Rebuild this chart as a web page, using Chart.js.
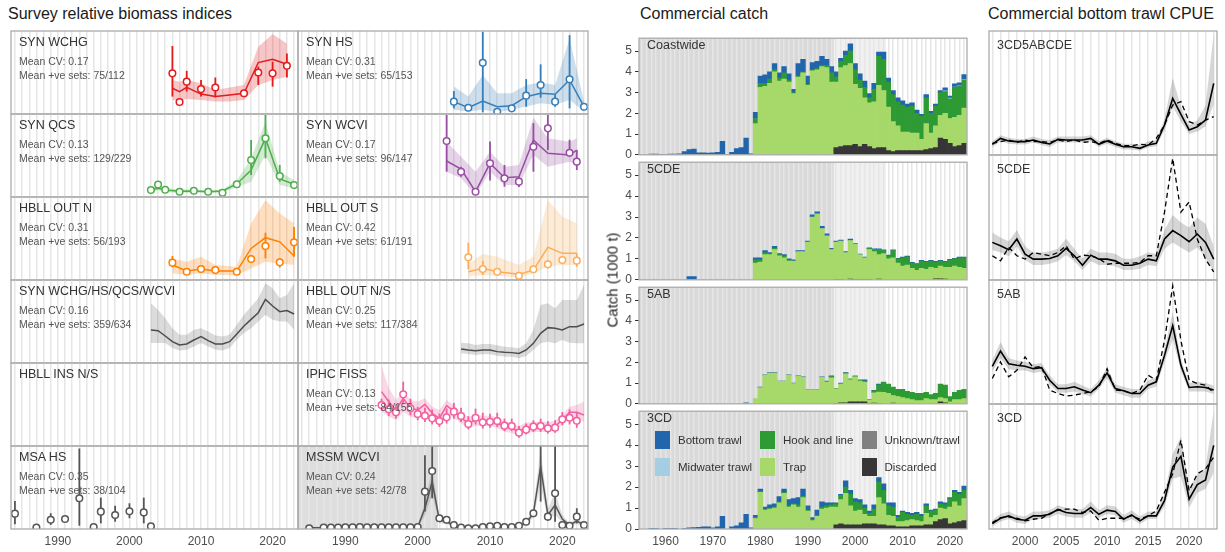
<!DOCTYPE html>
<html>
<head>
<meta charset="utf-8">
<title>Survey indices, commercial catch and CPUE</title>
<script src="https://cdn.jsdelivr.net/npm/chart.js@4.4.1/dist/chart.umd.min.js"></script>
<style>
  body { margin: 0; background: #fff; }
  #page { position: relative; width: 1225px; height: 552px; overflow: hidden;
          font-family: "Liberation Sans", Arial, Helvetica, sans-serif; }
  #page canvas { position: absolute; }
  .lbl { position: absolute; white-space: nowrap; line-height: 1; font-weight: normal; }
  .sw { position: absolute; width: 15px; height: 18px; }
</style>
</head>
<body>
<div id="page"></div>
<script>
// ---------- survey indices (relative units: 0 = panel floor, 1 = panel top) ----------
const wchgYears = [2006, 2007, 2008, 2010, 2012, 2016, 2018, 2020, 2022];
const wchgObs   = [0.49, 0.145, 0.39, 0.30, 0.32, 0.25, 0.50, 0.49, 0.58];
const wchgObsLo = [0.21, 0.11, 0.27, 0.21, 0.20, 0.21, 0.35, 0.33, 0.44];
const wchgObsHi = [0.82, 0.18, 0.52, 0.41, 0.44, 0.29, 0.57, 0.63, 0.73];
const wchgFitYears = [2006, 2007, 2008, 2010, 2012, 2014, 2016, 2018, 2020, 2022];
const wchgFit   = [0.31, 0.27, 0.32, 0.24, 0.21, 0.23, 0.25, 0.62, 0.66, 0.60];
const wchgFitLo = [0.17, 0.16, 0.18, 0.17, 0.15, 0.15, 0.17, 0.35, 0.41, 0.45];
const wchgFitHi = [0.41, 0.39, 0.41, 0.37, 0.29, 0.32, 0.35, 0.81, 0.96, 0.85];

const qcsYears = [2003, 2004, 2005, 2007, 2009, 2011, 2013, 2015, 2017, 2019, 2021, 2023];
const qcsObs   = [0.084, 0.15, 0.088, 0.064, 0.076, 0.064, 0.052, 0.153, 0.446, 0.707, 0.253, 0.145];
const qcsObsLo = [0.07, 0.11, 0.07, 0.05, 0.06, 0.05, 0.04, 0.13, 0.265, 0.466, 0.185, 0.12];
const qcsObsHi = [0.10, 0.19, 0.10, 0.08, 0.09, 0.08, 0.07, 0.18, 0.687, 0.99, 0.386, 0.17];
const qcsFit   = [0.084, 0.104, 0.084, 0.068, 0.072, 0.064, 0.072, 0.157, 0.325, 0.707, 0.217, 0.153];
const qcsFitLo = [0.06, 0.08, 0.06, 0.05, 0.05, 0.05, 0.05, 0.12, 0.185, 0.506, 0.145, 0.105];
const qcsFitHi = [0.11, 0.13, 0.11, 0.09, 0.09, 0.08, 0.09, 0.20, 0.466, 0.908, 0.305, 0.205];

const outNYears = [2006, 2008, 2010, 2012, 2015, 2017, 2019, 2021, 2023];
const outNObs   = [0.209, 0.10, 0.133, 0.12, 0.10, 0.253, 0.41, 0.213, 0.454];
const outNObsLo = [0.153, 0.09, 0.10, 0.11, 0.09, 0.22, 0.26, 0.15, 0.28];
const outNObsHi = [0.289, 0.11, 0.17, 0.13, 0.11, 0.28, 0.57, 0.26, 0.64];
const outNFit   = [0.18, 0.108, 0.133, 0.108, 0.108, 0.38, 0.51, 0.46, 0.29];
const outNFitLo = [0.08, 0.06, 0.08, 0.06, 0.06, 0.14, 0.22, 0.20, 0.18];
const outNFitHi = [0.26, 0.22, 0.28, 0.18, 0.16, 0.68, 0.96, 0.80, 0.68];

const synAllYears = [2003, 2004, 2005, 2006, 2007, 2008, 2009, 2010, 2011, 2012, 2013,
                     2014, 2015, 2016, 2017, 2018, 2019, 2020, 2021, 2022, 2023];
const synAllFit   = [0.398, 0.39, 0.325, 0.257, 0.217, 0.229, 0.277, 0.317, 0.269, 0.229, 0.229,
                     0.257, 0.349, 0.446, 0.526, 0.606, 0.767, 0.687, 0.618, 0.631, 0.59];
const synAllFitHi = [0.72, 0.64, 0.54, 0.42, 0.34, 0.34, 0.40, 0.42, 0.38, 0.33, 0.32,
                     0.34, 0.46, 0.58, 0.68, 0.78, 0.96, 0.90, 0.78, 0.82, 0.96];
const synAllFitLo = [0.24, 0.24, 0.24, 0.18, 0.15, 0.16, 0.20, 0.24, 0.20, 0.16, 0.15,
                     0.18, 0.28, 0.36, 0.42, 0.50, 0.58, 0.52, 0.50, 0.50, 0.40];

const msaYears = [1984, 1987, 1989, 1991, 1993, 1995, 1996, 1998, 2000, 2002, 2003];
const msaObs   = [0.185, 0.016, 0.112, 0.12, 0.37, 0.024, 0.209, 0.169, 0.213, 0.2, 0.032];
const msaObsLo = [0.056, 0.01, 0.05, 0.09, 0.04, 0.015, 0.068, 0.088, 0.13, 0.068, 0.02];
const msaObsHi = [0.337, 0.03, 0.19, 0.15, 0.97, 0.035, 0.378, 0.28, 0.31, 0.378, 0.045];

const hsYears = [2005, 2007, 2009, 2011, 2013, 2015, 2017, 2019, 2021, 2023];
const hsObs   = [0.149, 0.076, 0.618, 0.028, 0.068, 0.221, 0.349, 0.149, 0.418, 0.088];
const hsObsLo = [0.068, 0.06, 0.02, 0.02, 0.05, 0.088, 0.197, 0.088, 0.068, 0.07];
const hsObsHi = [0.277, 0.09, 0.99, 0.04, 0.085, 0.42, 0.598, 0.23, 0.95, 0.10];
const hsFit   = [0.149, 0.076, 0.157, 0.088, 0.10, 0.209, 0.249, 0.237, 0.41, 0.088];
const hsFitLo = [0.05, 0.03, 0.05, 0.02, 0.05, 0.09, 0.13, 0.11, 0.17, 0.03];
const hsFitHi = [0.33, 0.21, 0.47, 0.25, 0.25, 0.35, 0.38, 0.35, 0.91, 0.15];

const wcviYears = [2004, 2006, 2008, 2010, 2012, 2014, 2016, 2018, 2021, 2022];
const wcviObs   = [0.675, 0.305, 0.064, 0.406, 0.225, 0.185, 0.606, 0.827, 0.534, 0.426];
const wcviObsLo = [0.305, 0.245, 0.03, 0.20, 0.124, 0.12, 0.305, 0.566, 0.486, 0.325];
const wcviObsHi = [0.99, 0.365, 0.10, 0.67, 0.386, 0.245, 0.89, 0.99, 0.69, 0.566];
const wcviFit   = [0.434, 0.337, 0.064, 0.406, 0.233, 0.245, 0.687, 0.526, 0.506, 0.566];
const wcviFitLo = [0.305, 0.225, 0.024, 0.305, 0.145, 0.145, 0.506, 0.365, 0.426, 0.386];
const wcviFitHi = [0.667, 0.486, 0.305, 0.546, 0.365, 0.386, 0.956, 0.707, 0.667, 0.707];

const outSYears = [2007, 2009, 2011, 2014, 2016, 2018, 2020, 2022];
const outSObs   = [0.273, 0.133, 0.10, 0.052, 0.129, 0.189, 0.241, 0.233];
const outSObsLo = [0.129, 0.06, 0.09, 0.045, 0.12, 0.14, 0.23, 0.16];
const outSObsHi = [0.45, 0.23, 0.11, 0.06, 0.14, 0.24, 0.25, 0.32];
const outSFit   = [0.10, 0.14, 0.10, 0.068, 0.12, 0.394, 0.321, 0.321];
const outSFitLo = [0.04, 0.06, 0.05, 0.03, 0.08, 0.16, 0.18, 0.18];
const outSFitHi = [0.20, 0.313, 0.28, 0.18, 0.28, 0.964, 0.763, 0.683];

const outNSYears = [2006, 2007, 2008, 2009, 2010, 2011, 2012, 2013, 2014,
                    2015, 2016, 2017, 2018, 2019, 2020, 2021, 2022, 2023];
const outNSFit   = [0.169, 0.157, 0.149, 0.157, 0.157, 0.137, 0.129, 0.125, 0.116,
                    0.157, 0.237, 0.357, 0.426, 0.418, 0.398, 0.438, 0.438, 0.47];
const outNSFitHi = [0.245, 0.237, 0.217, 0.229, 0.229, 0.213, 0.197, 0.189, 0.177,
                    0.237, 0.398, 0.699, 0.719, 0.659, 0.759, 0.759, 0.759, 0.94];
const outNSFitLo = [0.116, 0.108, 0.096, 0.104, 0.104, 0.088, 0.076, 0.076, 0.056,
                    0.084, 0.157, 0.237, 0.257, 0.237, 0.277, 0.245, 0.237, 0.237];

const fissObsYears = [1995, 1996, 1997, 1998, 1999, 2000, 2001, 2002, 2003, 2004, 2005, 2006, 2007, 2008,
                      2009, 2010, 2011, 2012, 2013, 2014, 2015, 2016, 2017, 2018, 2019, 2020, 2021, 2022];
const fissObs   = [0.494, 0.442, 0.406, 0.622, 0.454, 0.386, 0.365, 0.333, 0.301, 0.345, 0.414, 0.361, 0.265, 0.341,
                   0.285, 0.293, 0.301, 0.245, 0.241, 0.161, 0.197, 0.233, 0.241, 0.213, 0.221, 0.321, 0.341, 0.305];
const fissObsHi = [0.57, 0.56, 0.50, 0.775, 0.57, 0.47, 0.46, 0.44, 0.39, 0.45, 0.52, 0.46, 0.36, 0.45,
                   0.40, 0.39, 0.40, 0.33, 0.33, 0.24, 0.27, 0.31, 0.33, 0.30, 0.31, 0.41, 0.44, 0.40];
const fissObsLo = [0.43, 0.36, 0.33, 0.51, 0.37, 0.31, 0.29, 0.26, 0.23, 0.27, 0.33, 0.29, 0.20, 0.26,
                   0.21, 0.22, 0.23, 0.18, 0.18, 0.10, 0.14, 0.17, 0.17, 0.15, 0.16, 0.25, 0.26, 0.22];
const fissFitYears = [1995, 1996, 1997, 1998, 1999, 2000, 2001, 2002, 2003, 2004, 2005, 2006, 2007, 2008, 2009,
                      2010, 2011, 2012, 2013, 2014, 2015, 2016, 2017, 2018, 2019, 2020, 2021, 2022, 2023];
const fissFit   = [0.655, 0.534, 0.434, 0.574, 0.454, 0.434, 0.502, 0.394, 0.333, 0.486, 0.422, 0.341, 0.273, 0.313, 0.301,
                   0.305, 0.273, 0.233, 0.213, 0.173, 0.221, 0.221, 0.233, 0.221, 0.241, 0.313, 0.406, 0.406, 0.373];
const fissFitHi = [0.96, 0.70, 0.554, 0.655, 0.554, 0.534, 0.574, 0.474, 0.434, 0.554, 0.494, 0.414, 0.345, 0.385, 0.365,
                   0.365, 0.345, 0.297, 0.277, 0.237, 0.285, 0.285, 0.297, 0.285, 0.305, 0.373, 0.474, 0.494, 0.534];
const fissFitLo = [0.414, 0.353, 0.313, 0.414, 0.353, 0.333, 0.394, 0.313, 0.253, 0.394, 0.333, 0.273, 0.205, 0.245, 0.237,
                   0.241, 0.213, 0.173, 0.157, 0.12, 0.165, 0.165, 0.173, 0.165, 0.181, 0.253, 0.333, 0.333, 0.293];

const mssmYears = [1985, 1987, 1988, 1989, 1990, 1991, 1992, 1993, 1994, 1995, 1996, 1997, 1998, 1999, 2000,
                   2001, 2002, 2003, 2004, 2005, 2006, 2007, 2008, 2009, 2010, 2011, 2012, 2013, 2014, 2015,
                   2016, 2017, 2018, 2019, 2020, 2021, 2022, 2023];
const mssmObs   = [0.008, 0.016, 0.016, 0.016, 0.02, 0.02, 0.024, 0.02, 0.02, 0.02, 0.02, 0.02, 0.02, 0.02, 0.024,
                   0.45, 0.699, 0.129, 0.112, 0.048, 0.016, 0.008, 0.008, 0.024, 0.032, 0.04, 0.024, 0.024, 0.04, 0.088,
                   0.189, 1.15, 0.149, 0.43, 0.048, 0.04, 0.149, 0.048];
const mssmObsLo = [0.005, 0.01, 0.01, 0.01, 0.012, 0.012, 0.015, 0.012, 0.012, 0.012, 0.012, 0.012, 0.012, 0.012, 0.015,
                   0.21, 0.37, 0.09, 0.07, 0.03, 0.01, 0.005, 0.005, 0.015, 0.02, 0.028, 0.015, 0.015, 0.028, 0.07,
                   0.15, 0.33, 0.1, 0.088, 0.03, 0.028, 0.068, 0.03];
const mssmObsHi = [0.012, 0.022, 0.022, 0.022, 0.028, 0.028, 0.033, 0.028, 0.028, 0.028, 0.028, 0.028, 0.028, 0.028, 0.033,
                   0.89, 1.2, 0.17, 0.15, 0.065, 0.022, 0.012, 0.012, 0.033, 0.045, 0.055, 0.033, 0.033, 0.055, 0.11,
                   0.22, 1.3, 0.2, 1.3, 0.065, 0.055, 0.25, 0.065];
const mssmFit   = [0.016, 0.016, 0.016, 0.016, 0.02, 0.02, 0.02, 0.02, 0.02, 0.02, 0.02, 0.02, 0.02, 0.02, 0.024,
                   0.249, 0.57, 0.108, 0.088, 0.04, 0.016, 0.016, 0.016, 0.02, 0.024, 0.03, 0.024, 0.024, 0.03, 0.07,
                   0.189, 0.751, 0.169, 0.289, 0.12, 0.048, 0.096, 0.048];
const mssmFitLo = [0.008, 0.008, 0.008, 0.008, 0.01, 0.01, 0.01, 0.01, 0.01, 0.01, 0.01, 0.01, 0.01, 0.01, 0.014,
                   0.16, 0.41, 0.07, 0.06, 0.025, 0.008, 0.008, 0.008, 0.01, 0.014, 0.02, 0.014, 0.014, 0.02, 0.05,
                   0.14, 0.53, 0.11, 0.17, 0.08, 0.03, 0.06, 0.03];
const mssmFitHi = [0.028, 0.028, 0.028, 0.028, 0.032, 0.032, 0.032, 0.032, 0.032, 0.032, 0.032, 0.032, 0.032, 0.032, 0.036,
                   0.33, 0.73, 0.15, 0.12, 0.06, 0.028, 0.028, 0.028, 0.032, 0.036, 0.045, 0.036, 0.036, 0.045, 0.1,
                   0.25, 0.97, 0.24, 0.45, 0.17, 0.07, 0.14, 0.07];

// ---------- commercial catch (1000 t) ----------
const catchStart = 1955;   // bottom trawl arrays start here
const gearStart = 1979;    // trap and hook-and-line arrays start here
const discStart = 1996;    // discard arrays start here
const midStart = 2019;

const cwBottom = [0, 0, 0.03, 0.03, 0.02, 0.02, 0.03, 0.03, 0.05, 0.15, 0.25, 0.27, 0.1, 0.1, 0.08, 0.1, 0.12, 0.65, 0.02, 0.12, 0.3, 0.35, 0.8, 0.05,
  0.3, 0.35, 0.4, 0.35, 0.3, 0.25, 0.3, 0.3, 0.15, 0.6, 0.6, 0.4, 0.35, 0.35, 0.45, 0.3, 0.3,
  0.25, 0.15, 0.2, 0.35, 0.3, 0.3, 0.3, 0.2, 0.3, 0.2, 0.35, 0.2, 0.2, 0.2, 0.2, 0.15, 0.15, 0.15, 0.1, 0.15, 0.1, 0.1, 0.1, 0.15, 0.1, 0.15, 0.15, 0.25];
const cwHook = [0.25, 0.2, 0.15, 0.2, 0.1, 0.15, 0.3, 0.1, 0.05, 0.05, 0.05, 0.05, 0.05, 0.05, 0.05, 0.1, 0.45,
  0.25, 0.3, 0.5, 0.6, 0.7, 0.4, 0.5, 0.25, 0.6, 1.4, 1.5, 1.2, 1.3, 1.15, 1.3, 1.2, 1.3, 0.95, 1.1, 1.25, 0.95, 0.95, 1.1, 1.05, 0.95, 1.45, 1.4, 1.35];
const cwTrap = [1.5, 3.25, 3.3, 3.45, 4.0, 3.55, 3.65, 3.5, 2.95, 3.75, 3.95, 3.35, 4.05, 4.1, 4.25, 4.2, 3.5,
  3.15, 3.8, 3.85, 3.95, 2.9, 2.8, 2.25, 2.1, 2.25, 3.0, 2.75, 2.1, 1.45, 1.2, 0.9, 0.9, 0.85, 0.85, 0.55, 1.25, 0.75, 1.05, 1.1, 1.25, 1.2, 1.4, 1.45, 1.7];
const cwDisc = [0.35, 0.4, 0.45, 0.45, 0.5, 0.4, 0.5, 0.4, 0.3, 0.35, 0.35, 0.2, 0.15, 0.2, 0.2, 0.2, 0.2, 0.2, 0.2, 0.25, 0.3, 0.35, 0.8, 0.75, 0.55, 0.4, 0.45, 0.55];
const cwMid = [0.03, 0.03, 0.02, 0.02, 0.02];

const cdeBottom = [0, 0, 0, 0, 0, 0, 0, 0, 0, 0, 0.15, 0.15, 0, 0, 0, 0, 0, 0, 0, 0, 0, 0, 0, 0,
  0.1, 0.1, 0.1, 0.05, 0.1, 0.05, 0.05, 0.05, 0.05, 0.05, 0.05, 0.05, 0.1, 0.1, 0.1, 0.1, 0.05,
  0.05, 0.05, 0.05, 0.07, 0.03, 0.03, 0.03, 0.03, 0.03, 0.03, 0.03, 0.03, 0.03, 0.03, 0.03, 0.03, 0.03, 0.03, 0.03, 0.03, 0.03, 0.03, 0.03, 0.03, 0.03, 0.03, 0.03, 0.03];
const cdeHook = [0.15, 0.1, 0.1, 0.05, 0.05, 0.05, 0.1, 0.05, 0, 0, 0, 0, 0, 0, 0, 0, 0,
  0, 0, 0, 0, 0, 0, 0, 0.05, 0.1, 0.25, 0.15, 0.15, 0.35, 0.2, 0.4, 0.4, 0.25, 0.3, 0.35, 0.35, 0.3, 0.3, 0.25, 0.25, 0.35, 0.35, 0.45, 0.5];
const cdeTrap = [0.8, 0.85, 1.2, 1.2, 1.45, 1.15, 1.05, 0.9, 0.9, 1.35, 1.35, 1.8, 3.0, 3.15, 2.45, 2.1, 1.45,
  1.78, 1.83, 1.3, 1.85, 1.68, 1.18, 1.03, 1.43, 1.35, 1.17, 1.25, 1.0, 1.05, 0.8, 0.65, 0.7, 0.55, 0.45, 0.55, 0.5, 0.6, 0.5, 0.6, 0.57, 0.6, 0.65, 0.6, 0.55];
const cdeDisc = [0.02, 0.02, 0, 0.03, 0.02, 0.02, 0.02, 0.02, 0, 0.03, 0, 0, 0, 0, 0, 0, 0, 0, 0, 0, 0, 0.05, 0.05, 0.03, 0, 0, 0, 0];

const abBottom = [0, 0, 0, 0, 0, 0, 0, 0, 0, 0, 0, 0, 0, 0, 0, 0, 0, 0, 0, 0, 0, 0, 0.05, 0,
  0, 0.02, 0.02, 0.02, 0.02, 0.02, 0.02, 0.02, 0.02, 0.02, 0.02, 0.02, 0.02, 0.02, 0.02, 0.02, 0.02,
  0, 0.02, 0.02, 0, 0, 0, 0.05, 0, 0.02, 0.03, 0, 0, 0, 0, 0, 0, 0, 0, 0, 0, 0, 0, 0, 0, 0, 0, 0, 0];
const abHook = [0, 0, 0, 0, 0, 0, 0, 0, 0, 0, 0, 0, 0, 0, 0, 0.03, 0.08,
  0.03, 0.03, 0.03, 0.05, 0.05, 0.05, 0.05, 0.03, 0.1, 0.35, 0.5, 0.45, 0.4, 0.35, 0.4, 0.35, 0.35, 0.35, 0.35, 0.3, 0.25, 0.3, 0.65, 0.65, 0.25, 0.35, 0.45, 0.45];
const abTrap = [0.25, 0.78, 1.38, 1.48, 1.48, 1.08, 1.08, 1.38, 0.98, 1.33, 1.28, 0.68, 0.68, 0.68, 1.28, 1.05, 1.25,
  0.7, 0.9, 1.4, 1.05, 1.2, 1.0, 0.95, 0.15, 0.5, 0.55, 0.55, 0.5, 0.37, 0.35, 0.3, 0.25, 0.2, 0.15, 0.15, 0.25, 0.2, 0.2, 0.2, 0.2, 0.1, 0.2, 0.2, 0.25];
const abDisc = [0.02, 0.05, 0.05, 0.1, 0.1, 0.1, 0.1, 0.02, 0.03, 0.02, 0, 0, 0.03, 0, 0, 0, 0, 0, 0, 0, 0, 0, 0.1, 0.05, 0, 0, 0, 0];

const cdBottom = [0, 0, 0.03, 0.03, 0, 0.03, 0.03, 0.03, 0, 0.03, 0.05, 0.07, 0.08, 0.1, 0.1, 0.05, 0.1, 0.6, 0, 0.1, 0.15, 0.3, 0.7, 0.05,
  0.1, 0.1, 0.1, 0.15, 0.15, 0.25, 0.15, 0.3, 0.25, 0.35, 0.35, 0.2, 0.1, 0.25, 0.25, 0.15, 0.1,
  0.05, 0.05, 0.3, 0.2, 0.15, 0.15, 0.15, 0.1, 0.2, 0.2, 0.3, 0.15, 0.2, 0.1, 0.05, 0.1, 0.1, 0.1, 0.1, 0.1, 0.05, 0.05, 0.1, 0.1, 0.05, 0.1, 0.1, 0.2];
const cdHook = [0.05, 0.05, 0.05, 0.05, 0.05, 0.05, 0.05, 0.05, 0.05, 0.1, 0.05, 0.05, 0.05, 0.05, 0.1, 0.1, 0.1,
  0.15, 0.2, 0.3, 0.55, 0.45, 0.35, 0.3, 0.15, 0.35, 0.75, 0.65, 0.45, 0.45, 0.2, 0.45, 0.3, 0.2, 0.3, 0.25, 0.35, 0.3, 0.25, 0.2, 0.2, 0.4, 0.45, 0.55, 0.4];
const cdTrap = [0.5, 1.75, 0.9, 0.95, 1.0, 1.25, 1.7, 1.05, 1.15, 1.05, 1.5, 0.85, 0.4, 0.6, 0.95, 1.0, 1.05,
  0.85, 1.15, 1.5, 0.9, 0.65, 0.7, 0.45, 0.35, 0.35, 1.3, 1.0, 0.5, 0.45, 0.25, 0.25, 0.3, 0.3, 0.25, 0.2, 0.55, 0.35, 0.3, 0.55, 0.45, 0.8, 1.0, 0.75, 1.05];
const cdDisc = [0.2, 0.25, 0.2, 0.2, 0.2, 0.2, 0.25, 0.25, 0.25, 0.2, 0.2, 0.15, 0.15, 0.1, 0.1, 0.1, 0.15, 0.15, 0.15, 0.2, 0.2, 0.35, 0.45, 0.5, 0.25, 0.3, 0.35, 0.4];

// ---------- commercial bottom trawl CPUE (relative units) ----------
const cpueYears = [1996, 1997, 1998, 1999, 2000, 2001, 2002, 2003, 2004, 2005, 2006, 2007, 2008, 2009,
                   2010, 2011, 2012, 2013, 2014, 2015, 2016, 2017, 2018, 2019, 2020, 2021, 2022, 2023];
const cpueAllStd = [0.086, 0.134, 0.113, 0.108, 0.108, 0.121, 0.102, 0.089, 0.126, 0.121, 0.121, 0.121, 0.134, 0.086,
                    0.113, 0.086, 0.067, 0.067, 0.054, 0.081, 0.094, 0.242, 0.457, 0.328, 0.202, 0.228, 0.282, 0.578];
const cpueAllHi  = [0.11, 0.16, 0.14, 0.13, 0.13, 0.15, 0.13, 0.12, 0.15, 0.15, 0.15, 0.15, 0.16, 0.11,
                    0.14, 0.11, 0.09, 0.09, 0.08, 0.11, 0.12, 0.29, 0.62, 0.39, 0.24, 0.28, 0.40, 0.98];
const cpueAllLo  = [0.06, 0.11, 0.09, 0.085, 0.085, 0.10, 0.08, 0.065, 0.10, 0.10, 0.10, 0.10, 0.11, 0.065,
                    0.09, 0.065, 0.045, 0.045, 0.035, 0.06, 0.07, 0.20, 0.39, 0.27, 0.17, 0.19, 0.23, 0.41];
const cpueAllRaw = [0.094, 0.108, 0.121, 0.102, 0.121, 0.108, 0.108, 0.102, 0.121, 0.108, 0.121, 0.102, 0.108, 0.094,
                    0.121, 0.094, 0.075, 0.075, 0.086, 0.081, 0.134, 0.242, 0.403, 0.430, 0.269, 0.242, 0.282, 0.309];

const cpueCdeStd = [0.301, 0.274, 0.242, 0.328, 0.207, 0.167, 0.167, 0.172, 0.194, 0.253, 0.194, 0.118, 0.199, 0.167,
                    0.167, 0.153, 0.118, 0.118, 0.134, 0.167, 0.153, 0.328, 0.395, 0.355, 0.306, 0.368, 0.301, 0.167];
const cpueCdeHi  = [0.38, 0.34, 0.31, 0.40, 0.27, 0.22, 0.22, 0.23, 0.25, 0.33, 0.25, 0.17, 0.25, 0.22,
                    0.22, 0.21, 0.17, 0.17, 0.19, 0.22, 0.21, 0.40, 0.52, 0.46, 0.42, 0.50, 0.45, 0.27];
const cpueCdeLo  = [0.24, 0.22, 0.19, 0.27, 0.16, 0.12, 0.12, 0.13, 0.15, 0.20, 0.15, 0.08, 0.15, 0.12,
                    0.12, 0.11, 0.08, 0.08, 0.09, 0.12, 0.11, 0.25, 0.30, 0.26, 0.22, 0.26, 0.18, 0.07];
const cpueCdeRaw = [0.194, 0.153, 0.261, 0.194, 0.167, 0.220, 0.207, 0.194, 0.220, 0.274, 0.167, 0.199, 0.194, 0.172,
                    0.126, 0.134, 0.134, 0.134, 0.140, 0.194, 0.194, 0.543, 0.973, 0.543, 0.624, 0.328, 0.167, 0.065];

const cpueAbStd = [0.304, 0.427, 0.325, 0.312, 0.304, 0.285, 0.293, 0.192, 0.125, 0.125, 0.139, 0.112, 0.091, 0.152,
                   0.251, 0.125, 0.107, 0.085, 0.085, 0.152, 0.179, 0.392, 0.632, 0.312, 0.133, 0.139, 0.133, 0.112];
const cpueAbHi  = [0.35, 0.50, 0.37, 0.35, 0.34, 0.32, 0.33, 0.23, 0.16, 0.16, 0.18, 0.15, 0.12, 0.19,
                   0.29, 0.16, 0.14, 0.12, 0.12, 0.19, 0.22, 0.44, 0.74, 0.36, 0.17, 0.18, 0.17, 0.15];
const cpueAbLo  = [0.26, 0.37, 0.28, 0.27, 0.27, 0.25, 0.26, 0.16, 0.09, 0.09, 0.10, 0.08, 0.06, 0.12,
                   0.21, 0.09, 0.07, 0.05, 0.05, 0.12, 0.14, 0.34, 0.52, 0.27, 0.10, 0.10, 0.10, 0.08];
const cpueAbRaw = [0.205, 0.339, 0.219, 0.272, 0.379, 0.293, 0.304, 0.112, 0.085, 0.064, 0.072, 0.085, 0.099, 0.139,
                   0.285, 0.112, 0.107, 0.085, 0.112, 0.232, 0.192, 0.512, 0.952, 0.512, 0.192, 0.165, 0.152, 0.091];

const cpueCdStd = [0.043, 0.086, 0.105, 0.078, 0.070, 0.105, 0.105, 0.118, 0.156, 0.132, 0.124, 0.124, 0.172, 0.118,
                   0.151, 0.140, 0.078, 0.113, 0.065, 0.105, 0.105, 0.226, 0.495, 0.581, 0.239, 0.355, 0.392, 0.669];
const cpueCdHi  = [0.07, 0.12, 0.14, 0.11, 0.10, 0.14, 0.14, 0.15, 0.19, 0.17, 0.16, 0.16, 0.22, 0.15,
                   0.19, 0.18, 0.11, 0.15, 0.10, 0.14, 0.14, 0.28, 0.60, 0.74, 0.33, 0.43, 0.49, 0.95];
const cpueCdLo  = [0.02, 0.06, 0.08, 0.05, 0.04, 0.08, 0.08, 0.09, 0.12, 0.10, 0.09, 0.09, 0.13, 0.09,
                   0.12, 0.11, 0.05, 0.08, 0.04, 0.08, 0.08, 0.18, 0.40, 0.42, 0.17, 0.29, 0.32, 0.45];
const cpueCdRaw = [0.051, 0.091, 0.097, 0.086, 0.065, 0.078, 0.086, 0.124, 0.151, 0.159, 0.159, 0.132, 0.145, 0.070,
                   0.086, 0.086, 0.086, 0.105, 0.078, 0.105, 0.145, 0.293, 0.441, 0.710, 0.306, 0.441, 0.481, 0.575];

// ---------- layout ----------
const page = document.getElementById('page');
const SURV_X = [[11, 298], [298, 588]];
const SURV_Y = [31, 114, 197, 280, 363, 446, 529];
const RIGHT_Y = [31, 155, 280, 404, 529];
const CATCH_X = [639, 967];
const CPUE_X = [989, 1217];
const GRID = '#e6e6e6';
const FRAME = '#ababab';

Chart.defaults.font.family = '"Liberation Sans", Arial, Helvetica, sans-serif';
Chart.defaults.font.size = 12;
Chart.defaults.color = '#4d4d4d';

function rgba(hex, a) {
  const n = parseInt(hex.slice(1), 16);
  return `rgba(${n >> 16 & 255},${n >> 8 & 255},${n & 255},${a})`;
}
const pts = (xs, ys) => xs.map((x, i) => ({ x, y: ys[i] }));
const from = (start, vals) => vals.map((v, i) => ({ x: start + i, y: v ? v : null }));

function text(str, x, yc, size, color, extra) {
  const d = document.createElement('div');
  d.className = 'lbl';
  d.textContent = str;
  d.style.left = x + 'px';
  d.style.top = (yc - 0.49 * size) + 'px';
  d.style.fontSize = size + 'px';
  d.style.color = color;
  if (extra) Object.assign(d.style, extra);
  page.appendChild(d);
  return d;
}

// panel background bands (under the grid) and frame (over everything)
const framePlugin = {
  id: 'frame',
  beforeDraw(chart, args, opts) {
    const { ctx, chartArea: a } = chart;
    const x = chart.scales.x;
    ctx.save();
    (opts.shade || []).forEach(s => {
      const x0 = Math.max(a.left, x.getPixelForValue(s.from));
      const x1 = Math.min(a.right, x.getPixelForValue(s.to));
      ctx.fillStyle = s.color;
      ctx.fillRect(x0, a.top, x1 - x0, a.bottom - a.top);
    });
    ctx.restore();
  },
  afterDraw(chart) {
    const { ctx, chartArea: a } = chart;
    ctx.save();
    ctx.strokeStyle = FRAME;
    ctx.lineWidth = 1.3;
    ctx.strokeRect(a.left, a.top, a.right - a.left, a.bottom - a.top);
    ctx.restore();
  }
};

function makePanel(box, cfg) {
  const PAD = 3;
  const axisH = cfg.xLabels ? 22 : 0;
  const axisW = cfg.yTicks ? 40 : 0;
  const padB = cfg.yTicks ? 10 : PAD;
  const w = box[2] - box[0] + axisW + 2 * PAD;
  const h = box[3] - box[1] + axisH + PAD + padB;
  const cv = document.createElement('canvas');
  cv.width = w; cv.height = h;
  cv.style.left = (box[0] - axisW - PAD) + 'px';
  cv.style.top = (box[1] - PAD) + 'px';
  cv.style.width = w + 'px';
  cv.style.height = h + 'px';
  page.appendChild(cv);

  return new Chart(cv, {
    type: cfg.type || 'line',
    data: { datasets: cfg.datasets },
    plugins: [framePlugin],
    options: {
      responsive: false,
      animation: false,
      devicePixelRatio: 1,
      events: [],
      layout: { autoPadding: false, padding: { left: PAD, right: PAD, top: PAD, bottom: padB } },
      plugins: {
        legend: { display: false },
        tooltip: { enabled: false },
        frame: { shade: cfg.shade || [] }
      },
      scales: {
        x: {
          type: 'linear', min: cfg.xmin, max: cfg.xmax, offset: false,
          stacked: !!cfg.stacked,
          afterFit: s => { s.height = axisH; },
          border: { display: false },
          grid: { color: GRID, lineWidth: 1.5, drawTicks: false, offset: false },
          ticks: {
            display: !!cfg.xLabels, stepSize: 1, includeBounds: false, autoSkip: false,
            maxRotation: 0, minRotation: 0, padding: 5, color: '#4d4d4d', font: { size: 12 },
            callback: v => (v % cfg.labelEvery === 0 ? String(v) : '')
          }
        },
        y: {
          type: 'linear', min: cfg.ymin, max: cfg.ymax,
          display: !!cfg.yTicks,
          stacked: !!cfg.stacked,
          afterFit: s => { s.width = axisW; },
          border: { display: false },
          grid: { drawOnChartArea: false, drawTicks: true, tickLength: 4, tickColor: '#333', lineWidth: 1 },
          ticks: { stepSize: 1, includeBounds: false, padding: 3, color: '#4d4d4d', font: { size: 12 } }
        }
      }
    }
  });
}

// ---------- survey panels ----------
const surveys = [
  { name: 'SYN WCHG', cv: '0.17', sets: '75/112', col: 0, row: 0, color: '#e41a1c',
    obs: [wchgYears, wchgObs, wchgObsLo, wchgObsHi], fit: [wchgFitYears, wchgFit, wchgFitLo, wchgFitHi] },
  { name: 'SYN QCS', cv: '0.13', sets: '129/229', col: 0, row: 1, color: '#4daf4a',
    obs: [qcsYears, qcsObs, qcsObsLo, qcsObsHi], fit: [qcsYears, qcsFit, qcsFitLo, qcsFitHi] },
  { name: 'HBLL OUT N', cv: '0.31', sets: '56/193', col: 0, row: 2, color: '#ff7f00',
    obs: [outNYears, outNObs, outNObsLo, outNObsHi], fit: [outNYears, outNFit, outNFitLo, outNFitHi] },
  { name: 'SYN WCHG/HS/QCS/WCVI', cv: '0.16', sets: '359/634', col: 0, row: 3, color: '#4d4d4d',
    fit: [synAllYears, synAllFit, synAllFitLo, synAllFitHi] },
  { name: 'HBLL INS N/S', col: 0, row: 4, color: '#4d4d4d' },
  { name: 'MSA HS', cv: '0.35', sets: '38/104', col: 0, row: 5, color: '#555555',
    obs: [msaYears, msaObs, msaObsLo, msaObsHi] },
  { name: 'SYN HS', cv: '0.31', sets: '65/153', col: 1, row: 0, color: '#377eb8',
    obs: [hsYears, hsObs, hsObsLo, hsObsHi], fit: [hsYears, hsFit, hsFitLo, hsFitHi] },
  { name: 'SYN WCVI', cv: '0.17', sets: '96/147', col: 1, row: 1, color: '#984ea3',
    obs: [wcviYears, wcviObs, wcviObsLo, wcviObsHi], fit: [wcviYears, wcviFit, wcviFitLo, wcviFitHi] },
  { name: 'HBLL OUT S', cv: '0.42', sets: '61/191', col: 1, row: 2, color: '#fdae5b',
    obs: [outSYears, outSObs, outSObsLo, outSObsHi], fit: [outSYears, outSFit, outSFitLo, outSFitHi] },
  { name: 'HBLL OUT N/S', cv: '0.25', sets: '117/384', col: 1, row: 3, color: '#4d4d4d',
    fit: [outNSYears, outNSFit, outNSFitLo, outNSFitHi] },
  { name: 'IPHC FISS', cv: '0.13', sets: '84/155', col: 1, row: 4, color: '#f2609f',
    obs: [fissObsYears, fissObs, fissObsLo, fissObsHi], fit: [fissFitYears, fissFit, fissFitLo, fissFitHi] },
  { name: 'MSSM WCVI', cv: '0.24', sets: '42/78', col: 1, row: 5, color: '#555555',
    obs: [mssmYears, mssmObs, mssmObsLo, mssmObsHi], fit: [mssmYears, mssmFit, mssmFitLo, mssmFitHi],
    shade: [{ from: 1983, to: 2002.8, color: 'rgba(0,0,0,0.13)' }] }
];

function surveyDatasets(s) {
  const ds = [];
  if (s.fit) {
    const [yrs, est, lo, hi] = s.fit;
    const grey = s.color === '#4d4d4d' || s.color === '#555555';
    ds.push({ type: 'line', data: pts(yrs, hi), borderWidth: 0, borderColor: 'rgba(0,0,0,0)', pointRadius: 0,
              fill: 1, backgroundColor: rgba(s.color, grey ? 0.2 : 0.25), order: 10 });
    ds.push({ type: 'line', data: pts(yrs, lo), borderWidth: 0, borderColor: 'rgba(0,0,0,0)', pointRadius: 0,
              fill: false, order: 11 });
    ds.push({ type: 'line', data: pts(yrs, est), borderColor: s.color, borderWidth: 1.5, pointRadius: 0,
              fill: false, order: 5 });
  }
  if (s.obs) {
    const [yrs, v, lo, hi] = s.obs;
    ds.push({ type: 'bar', data: yrs.map((x, i) => ({ x, y: [lo[i], hi[i]] })), backgroundColor: s.color,
              barThickness: 1.8, grouped: false, borderWidth: 0, inflateAmount: 0, order: 2 });
    ds.push({ type: 'line', data: pts(yrs, v), showLine: false, pointRadius: 3.3, pointBorderWidth: 1.5,
              pointBackgroundColor: '#ffffff', pointBorderColor: s.color, order: 1 });
  }
  return ds;
}

surveys.forEach(s => {
  const [x0, x1] = SURV_X[s.col];
  makePanel([x0, SURV_Y[s.row], x1, SURV_Y[s.row + 1]], {
    xmin: 1983.45, xmax: 2023.55, ymin: 0, ymax: 1, labelEvery: 10,
    xLabels: s.row === 5, datasets: surveyDatasets(s), shade: s.shade
  });
});

// ---------- commercial catch panels ----------
const gearColors = {
  bottom: '#2166ac', mid: '#a6cee3', hook: '#2e9a33', trap: '#a6d96a', unknown: '#808080', disc: '#363636'
};
const catchAreas = [
  { name: 'Coastwide', bottom: cwBottom, hook: cwHook, trap: cwTrap, disc: cwDisc, mid: cwMid },
  { name: '5CDE', bottom: cdeBottom, hook: cdeHook, trap: cdeTrap, disc: cdeDisc },
  { name: '5AB', bottom: abBottom, hook: abHook, trap: abTrap, disc: abDisc },
  { name: '3CD', bottom: cdBottom, hook: cdHook, trap: cdTrap, disc: cdDisc }
];
const catchShade = [
  { from: 1954, to: 1995.5, color: 'rgba(0,0,0,0.15)' },
  { from: 1995.5, to: 2006.5, color: 'rgba(0,0,0,0.06)' }
];
function barSet(label, data, color) {
  return { type: 'bar', label, data, backgroundColor: color, borderWidth: 0,
           barPercentage: 1, categoryPercentage: 1 };
}
catchAreas.forEach((a, i) => {
  const datasets = [
    barSet('Discarded', from(discStart, a.disc), gearColors.disc),
    barSet('Trap', from(gearStart, a.trap), gearColors.trap),
    barSet('Hook and line', from(gearStart, a.hook), gearColors.hook),
    barSet('Midwater trawl', from(midStart, a.mid || []), gearColors.mid),
    barSet('Bottom trawl', from(catchStart, a.bottom), gearColors.bottom)
  ];
  makePanel([CATCH_X[0], RIGHT_Y[i], CATCH_X[1], RIGHT_Y[i + 1]], {
    type: 'bar', xmin: 1954.4, xmax: 2023.6, ymin: 0, ymax: 5.62, labelEvery: 10, stacked: true,
    xLabels: i === 3, yTicks: true, datasets, shade: catchShade
  });
  text(a.name, CATCH_X[0] + 8, RIGHT_Y[i] + 14, 12.5, '#333');
});

// ---------- CPUE panels ----------
const cpuePanels = [
  { name: '3CD5ABCDE', std: cpueAllStd, lo: cpueAllLo, hi: cpueAllHi, raw: cpueAllRaw },
  { name: '5CDE', std: cpueCdeStd, lo: cpueCdeLo, hi: cpueCdeHi, raw: cpueCdeRaw },
  { name: '5AB', std: cpueAbStd, lo: cpueAbLo, hi: cpueAbHi, raw: cpueAbRaw },
  { name: '3CD', std: cpueCdStd, lo: cpueCdLo, hi: cpueCdHi, raw: cpueCdRaw }
];
cpuePanels.forEach((p, i) => {
  const datasets = [
    { data: pts(cpueYears, p.hi), borderWidth: 0, borderColor: 'rgba(0,0,0,0)', pointRadius: 0, fill: 1,
      backgroundColor: 'rgba(0,0,0,0.16)', order: 10 },
    { data: pts(cpueYears, p.lo), borderWidth: 0, borderColor: 'rgba(0,0,0,0)', pointRadius: 0, fill: false, order: 11 },
    { data: pts(cpueYears, p.raw), borderColor: '#000', borderWidth: 1.3, borderDash: [5, 3.5], pointRadius: 0,
      fill: false, order: 3 },
    { data: pts(cpueYears, p.std), borderColor: '#000', borderWidth: 1.6, pointRadius: 0, fill: false, order: 2 }
  ];
  makePanel([CPUE_X[0], RIGHT_Y[i], CPUE_X[1], RIGHT_Y[i + 1]], {
    xmin: 1995.6, xmax: 2023.4, ymin: 0, ymax: 1, labelEvery: 5, xLabels: i === 3, datasets
  });
  text(p.name, CPUE_X[0] + 8, RIGHT_Y[i] + 14, 12.5, '#333');
});

// ---------- texts ----------
surveys.forEach(s => {
  const x0 = SURV_X[s.col][0] + 8;
  const y0 = SURV_Y[s.row];
  text(s.name, x0, y0 + 11.5, 12.5, '#333');
  if (s.cv) {
    text('Mean CV: ' + s.cv, x0, y0 + 29.7, 10.5, '#555');
    text('Mean +ve sets: ' + s.sets, x0, y0 + 44, 10.5, '#555');
  }
});

text('Survey relative biomass indices', 8, 14, 16, '#1a1a1a');
text('Commercial catch', 640, 14, 16, '#1a1a1a');
text('Commercial bottom trawl CPUE', 988, 14, 16, '#1a1a1a');

const yTitle = text('Catch (1000 t)', 0, 0, 15, '#222');
yTitle.style.left = '612px';
yTitle.style.top = '280px';
yTitle.style.transform = 'translate(-50%, -50%) rotate(-90deg)';

// legend in the 3CD catch panel
const legendItems = [
  ['Bottom trawl', gearColors.bottom, 655, 431], ['Hook and line', gearColors.hook, 760, 431],
  ['Unknown/trawl', gearColors.unknown, 861.5, 431], ['Midwater trawl', gearColors.mid, 655, 458],
  ['Trap', gearColors.trap, 760, 458], ['Discarded', gearColors.disc, 861.5, 458]
];
legendItems.forEach(([label, color, x, y]) => {
  const sw = document.createElement('div');
  sw.className = 'sw';
  sw.style.left = x + 'px';
  sw.style.top = y + 'px';
  sw.style.background = color;
  page.appendChild(sw);
  text(label, x + 23, y + 10, 11.5, '#333');
});
</script>
</body>
</html>
